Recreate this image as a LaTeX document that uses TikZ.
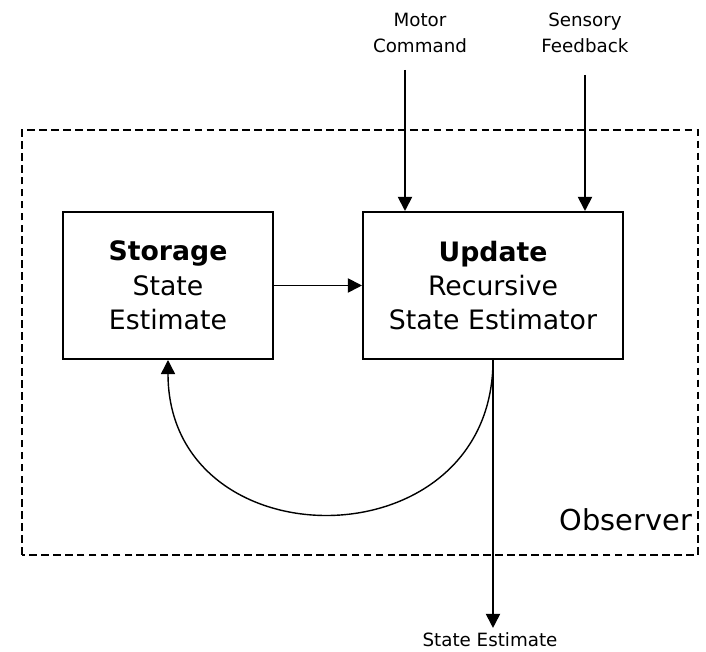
\documentclass[tikz,border=0pt]{standalone}
\usepackage{fontspec}
\setmainfont{DejaVu Sans}
\usetikzlibrary{arrows.meta,positioning,calc}

\begin{document}
\begin{tikzpicture}[x=0.025cm,y=0.025cm,
  block/.style={draw,line width=1.4pt,minimum width=5.25cm,minimum height=3.675cm,
                align=center,font=\fontsize{19}{24.5}\selectfont},
  io/.style={align=center,font=\fontsize{13}{18.4}\selectfont},
  arr/.style={-{Triangle[length=10pt,width=10pt]},line width=1.3pt}]
\useasboundingbox (0,0) rectangle (706,652);
\draw[dashed,line width=1pt,dash pattern=on 5.5pt off 3pt] (22,97) rectangle (698,522);
\node[anchor=east,font=\fontsize{20.5}{24}\selectfont,inner sep=2pt] (observer) at (695,132) {Observer};
\node[block] (storage) at (168,366.5) {\textbf{Storage}\\State\\Estimate};
\node[block,minimum width=6.5cm] (update) at (493,366.5) {\textbf{Update}\\Recursive\\State Estimator};
\node[io] (motor) at (420,619) {Motor\\Command};
\node[io] (sensory) at (585,619) {Sensory\\Feedback};
\node[io] (estimate) at (490,12) {State Estimate};
\coordinate (mc) at (405,582);
\coordinate (sf) at (585,577);
\draw[arr] (mc) -- (mc |- update.north);
\draw[arr] (sf) -- (sf |- update.north);
\draw[arr] (storage) -- (update);
\draw[arr] (update.south) -- (update.south |- estimate.north);
\draw[arr,line width=1pt] (update.south) .. controls +(0,-205) and +(0,-205) .. (storage.south);
\end{tikzpicture}
\end{document}
